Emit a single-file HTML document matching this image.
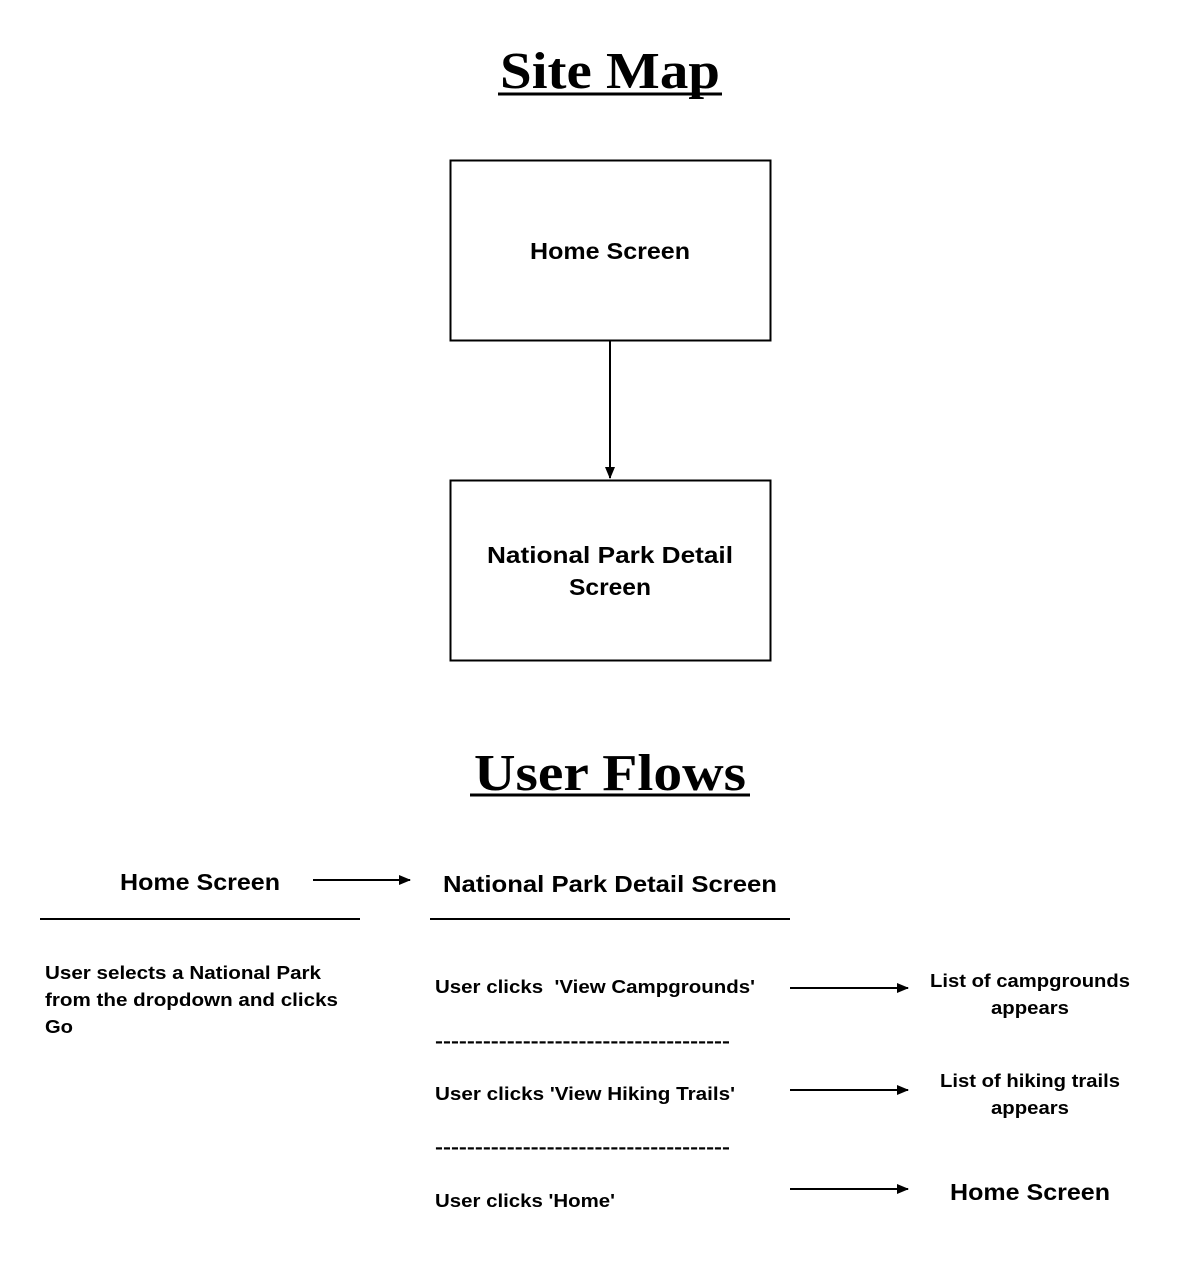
<!DOCTYPE html>
<html><head><meta charset="utf-8"><style>
html,body{margin:0;padding:0;background:#fff;}
svg{display:block}
.t{font-family:"Liberation Serif",serif;font-weight:bold;font-size:52px;text-anchor:middle;}
.h{font-family:"Liberation Sans",sans-serif;font-weight:bold;font-size:23px;text-anchor:middle;}
.b{font-family:"Liberation Sans",sans-serif;font-weight:bold;font-size:18.5px;}
.c{font-family:"Liberation Sans",sans-serif;font-weight:bold;font-size:18.5px;text-anchor:middle;}
</style></head><body>
<svg width="1190" height="1280" viewBox="0 0 1190 1280" xmlns="http://www.w3.org/2000/svg">
<defs><marker id="a" markerWidth="12" markerHeight="10" refX="11" refY="5" orient="auto" markerUnits="userSpaceOnUse"><path d="M0,0 L12,5 L0,10 z" fill="#000"/></marker></defs>
<text class="t" x="610" y="88" textLength="220" lengthAdjust="spacingAndGlyphs">Site Map</text>
<line x1="498" y1="94" x2="722" y2="94" stroke="#000" stroke-width="3"/>
<rect x="450.5" y="160.5" width="320" height="180" fill="none" stroke="#000" stroke-width="2"/>
<text class="h" x="610" y="259" textLength="160" lengthAdjust="spacingAndGlyphs">Home Screen</text>
<line x1="610" y1="341" x2="610" y2="478" stroke="#000" stroke-width="2" marker-end="url(#a)"/>
<rect x="450.5" y="480.5" width="320" height="180" fill="none" stroke="#000" stroke-width="2"/>
<text class="h" x="610" y="563" textLength="246" lengthAdjust="spacingAndGlyphs">National Park Detail</text>
<text class="h" x="610" y="595" textLength="82" lengthAdjust="spacingAndGlyphs">Screen</text>
<text class="t" x="610" y="790" textLength="272" lengthAdjust="spacingAndGlyphs">User Flows</text>
<line x1="470" y1="795" x2="750" y2="795" stroke="#000" stroke-width="3"/>
<text class="h" x="200" y="890" textLength="160" lengthAdjust="spacingAndGlyphs">Home Screen</text>
<line x1="313" y1="880" x2="410" y2="880" stroke="#000" stroke-width="2" marker-end="url(#a)"/>
<text class="h" x="610" y="892" textLength="334" lengthAdjust="spacingAndGlyphs">National Park Detail Screen</text>
<line x1="40" y1="919" x2="360" y2="919" stroke="#000" stroke-width="2"/>
<line x1="430" y1="919" x2="790" y2="919" stroke="#000" stroke-width="2"/>
<text class="b" x="45" y="979" textLength="276" lengthAdjust="spacingAndGlyphs">User selects a National Park</text>
<text class="b" x="45" y="1006" textLength="293" lengthAdjust="spacingAndGlyphs">from the dropdown and clicks</text>
<text class="b" x="45" y="1033" textLength="28" lengthAdjust="spacingAndGlyphs">Go</text>
<text class="b" x="435" y="993" xml:space="preserve" textLength="320" lengthAdjust="spacingAndGlyphs">User clicks  'View Campgrounds'</text>
<text class="b" x="435" y="1047" textLength="295" lengthAdjust="spacingAndGlyphs">-------------------------------------</text>
<text class="b" x="435" y="1100" textLength="300" lengthAdjust="spacingAndGlyphs">User clicks 'View Hiking Trails'</text>
<text class="b" x="435" y="1153" textLength="295" lengthAdjust="spacingAndGlyphs">-------------------------------------</text>
<text class="b" x="435" y="1207" textLength="180" lengthAdjust="spacingAndGlyphs">User clicks 'Home'</text>
<line x1="790" y1="988" x2="908" y2="988" stroke="#000" stroke-width="2" marker-end="url(#a)"/>
<line x1="790" y1="1090" x2="908" y2="1090" stroke="#000" stroke-width="2" marker-end="url(#a)"/>
<line x1="790" y1="1189" x2="908" y2="1189" stroke="#000" stroke-width="2" marker-end="url(#a)"/>
<text class="c" x="1030" y="987" textLength="200" lengthAdjust="spacingAndGlyphs">List of campgrounds</text>
<text class="c" x="1030" y="1014" textLength="78" lengthAdjust="spacingAndGlyphs">appears</text>
<text class="c" x="1030" y="1087" textLength="180" lengthAdjust="spacingAndGlyphs">List of hiking trails</text>
<text class="c" x="1030" y="1114" textLength="78" lengthAdjust="spacingAndGlyphs">appears</text>
<text class="h" x="1030" y="1200" textLength="160" lengthAdjust="spacingAndGlyphs">Home Screen</text>
</svg>
</body></html>
